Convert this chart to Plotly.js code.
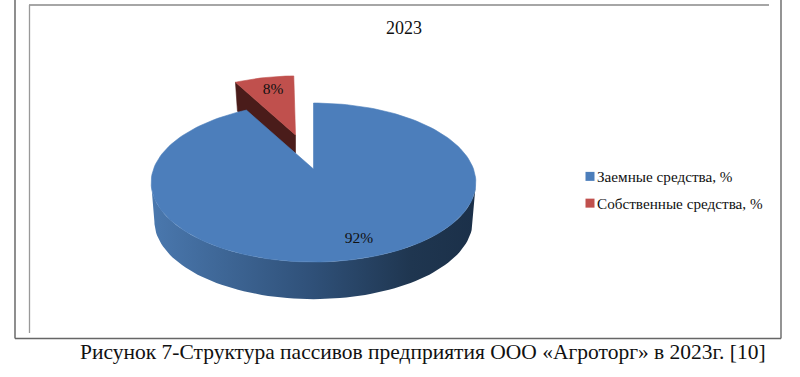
<!DOCTYPE html>
<html><head><meta charset="utf-8">
<script src="https://cdn.plot.ly/plotly-3.0.1.min.js"></script>
<style>html,body{margin:0;padding:0;background:#fff}#c{width:800px;height:377px}</style>
</head><body><div id="c"></div>
<script>
var categories = ["Заемные средства, %", "Собственные средства, %"];
var values = [92, 8];
var sliceColors = ["#4c7ebb", "#c0504d"];
var chartTitle = "2023";
var caption = "Рисунок 7-Структура пассивов предприятия ООО «Агроторг» в 2023г. [10]";

var SERIF = "Liberation Serif, Times New Roman, serif";
var R = 160, K = 77.2, P = 0.17;
function proj(deg, tip, s){
  var t = deg*Math.PI/180, u = Math.sin(t), v = Math.cos(t), d = 1+P*v;
  return [tip[0]+s*R*u/d, tip[1]-s*K*v/d];
}
var total = values[0]+values[1];
var blueEnd = 360*values[0]/total;
var blueTip = [313.5,169], redTip = [295.5,135];
var depth = 39, redS = 0.895;
var traces = [];
function poly(pts, color, gradient){
  var x = pts.map(function(p){return p[0]}), y = pts.map(function(p){return p[1]});
  x.push(x[0]); y.push(y[0]);
  var t = {type:"scatter",mode:"lines",x:x,y:y,fill:"toself",
    line:{color:color,width:gradient?0:0.6},hoverinfo:"skip",showlegend:false};
  if(gradient){ t.fillgradient = gradient; } else { t.fillcolor = color; }
  traces.push(t);
}
// exploded small slice
var redArc = [];
for(var a=blueEnd; a<=360.001; a+=2){ redArc.push(proj(a,redTip,redS)); }
var rl = redArc[0];
poly([rl,redTip,[redTip[0],redTip[1]+18],[rl[0]+2,rl[1]+29]],"#4a1c1a");
poly([redTip].concat(redArc),sliceColors[1]);
// wall of the large slice, between the widest points of the two rims
var upper=[], lower=[];
for(var b=260; b>=100; b-=2){
  upper.push(proj(b,blueTip,1));
  var q=proj(b,blueTip,0.98);
  lower.unshift([q[0],q[1]+depth]);
}
poly(upper.concat(lower),"#2f5078",{type:"horizontal",colorscale:[[0,"#4a78ae"],[0.5,"#2f5078"],[0.8,"#1f3650"],[1,"#1b3049"]]});
// top face of the large slice
var blueArc=[];
for(var a2=0;a2<=blueEnd+0.001;a2+=2){blueArc.push(proj(a2,blueTip,1));}
blueArc.push(proj(blueEnd,blueTip,1));
poly([blueTip].concat(blueArc),sliceColors[0]);
// labels
traces.push({type:"scatter",mode:"text",x:[359,273],y:[239,90],
  text:values.map(function(v){return v+"%"}),textposition:"middle center",
  textfont:{family:SERIF,size:15.5,color:"#111"},hoverinfo:"skip",showlegend:false});
// legend entries
categories.forEach(function(n,i){
  traces.push({type:"scatter",mode:"markers",x:[null],y:[null],name:n,legendgroup:"g"+i,
    marker:{symbol:"square",size:9,color:sliceColors[i]},showlegend:true});
});
function line(x0,y0,x1,y1,color,w){
  return {type:"line",xref:"paper",yref:"paper",x0:x0/800,x1:x1/800,y0:1-y0/377,y1:1-y1/377,line:{color:color,width:w}};
}
var layout={
  width:800,height:377,margin:{l:0,r:0,t:0,b:0},paper_bgcolor:"#fff",plot_bgcolor:"#fff",
  xaxis:{range:[0,800],visible:false,fixedrange:true},
  yaxis:{range:[377,0],visible:false,fixedrange:true},
  title:{text:chartTitle,x:404/800,xanchor:"center",y:1-28/377,yanchor:"middle",font:{family:SERIF,size:18,color:"#111"}},
  showlegend:true,
  legend:{x:557/800,xanchor:"left",y:1-160/377,yanchor:"top",tracegroupgap:4,bgcolor:"rgba(0,0,0,0)",
    font:{family:SERIF,size:15.2,color:"#111"},itemclick:false,itemdoubleclick:false},
  shapes:[line(15,0,15,338.5,"#444",1.2),line(15,338.5,781,338.5,"#666",1.6),line(781,0,781,338.5,"#666",1.4),
          line(29,5,769,5,"#888",1.6),line(29.5,5,29.5,333,"#999",1.3)],
  annotations:[{xref:"paper",yref:"paper",x:423/800,y:1-352/377,xanchor:"center",yanchor:"middle",showarrow:false,
    text:caption,font:{family:SERIF,size:21.5,color:"#111"}}]
};
Plotly.newPlot("c",traces,layout,{displayModeBar:false}).then(function(gd){
  gd.querySelectorAll(".legend .traces .legendsymbols").forEach(function(n){n.setAttribute("transform","translate(13,0)");});
});
</script></body></html>
